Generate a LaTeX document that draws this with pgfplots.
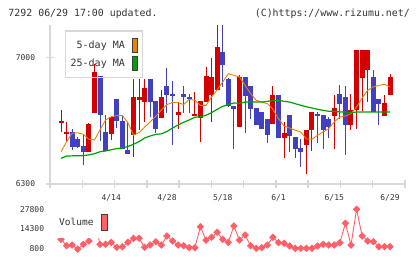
\documentclass[border=0pt]{standalone}
\usepackage{pgfplots}
\usepackage{pgfplotstable}
\pgfplotsset{compat=1.18}
\usepackage{fontspec}
\setmainfont{DejaVu Sans Mono}
\definecolor{cred}{RGB}{212,0,0}
\definecolor{cblue}{RGB}{64,64,192}
\definecolor{cma5}{RGB}{240,128,0}
\definecolor{cma25}{RGB}{0,160,0}
\definecolor{cvol}{RGB}{255,96,104}
\definecolor{caxis}{RGB}{216,216,216}
\definecolor{ctext}{RGB}{51,51,51}

\pgfplotstableread{
i o h l c
0 6640 6708 6588 6648
1 6582 6644 6540 6588
5 6477 6640 6477 6634
6 6695 6967 6695 6921
9 6579 6677 6542 6671
13 6570 6884 6450 6782
14 6767 6884 6598 6782
15 6754 6884 6644 6832
18 6666 6819 6666 6782
21 6684 6754 6607 6699
24 6682 6810 6682 6688
25 6666 6760 6533 6760
26 6754 6948 6754 6899
27 6795 6998 6644 6893
28 6819 7250 6819 7060
32 6616 6902 6616 6893
38 6634 6843 6630 6792
40 6555 6644 6444 6583
44 6518 6598 6357 6598
45 6598 6699 6481 6699
49 6677 6795 6496 6721
52 6629 6801 6598 6708
53 6708 7041 6607 7041
54 6888 7041 6703 7041
55 6930 7041 6754 7041
58 6677 6795 6677 6749
59 6795 6911 6795 6893
}\upcandles

\pgfplotstableread{
i o h l c
2 6588 6603 6487 6505
3 6551 6560 6500 6505
4 6511 6570 6407 6477
7 6899 6899 6540 6684
8 6588 6681 6481 6481
10 6769 6769 6610 6648
11 6648 6681 6496 6496
12 6490 6644 6468 6468
16 6880 6880 6671 6754
17 6760 6760 6583 6607
19 6843 6943 6695 6795
20 6799 6869 6518 6788
22 6799 6843 6695 6781
23 6781 6797 6695 6769
29 7032 7250 6838 6958
30 6884 6890 6725 6732
31 6732 6732 6496 6717
33 6893 6893 6584 6788
34 6843 6843 6659 6717
35 6721 6721 6629 6629
36 6699 6699 6607 6607
37 6659 6659 6529 6570
39 6792 6792 6555 6555
41 6681 6681 6477 6566
42 6560 6560 6444 6496
43 6500 6551 6394 6477
46 6688 6699 6529 6677
47 6681 6681 6496 6598
48 6659 6671 6555 6616
50 6801 6850 6662 6745
51 6782 6843 6459 6629
56 6893 6930 6699 6699
57 6769 6769 6629 6745
}\downcandles

\pgfplotstableread{
i v
0 6479
1 6534
2 6581
3 6584
4 6575
5 6548
6 6544
7 6600
8 6655
9 6673
10 6679
11 6679
12 6640
13 6571
14 6585
15 6615
16 6645
17 6675
18 6710
19 6740
20 6752
21 6751
22 6740
23 6769
24 6764
25 6736
26 6736
27 6782
28 6822
29 6865
30 6911
31 6902
32 6893
33 6847
34 6801
35 6764
36 6754
37 6745
38 6714
39 6662
40 6621
41 6610
42 6598
43 6588
44 6550
45 6548
46 6570
47 6588
48 6607
49 6644
50 6671
51 6677
52 6690
53 6727
54 6777
55 6819
56 6838
57 6847
58 6852
59 6838
}\maFive

\pgfplotstableread{
i v
0 6442
1 6455
2 6456
3 6457
4 6457
5 6461
6 6468
7 6479
8 6483
9 6490
10 6496
11 6500
12 6508
13 6520
14 6535
15 6555
16 6566
17 6575
18 6578
19 6591
20 6610
21 6627
22 6642
23 6655
24 6670
25 6672
26 6681
27 6695
28 6714
29 6730
30 6740
31 6749
32 6747
33 6754
34 6754
35 6754
36 6754
37 6758
38 6762
39 6764
40 6758
41 6754
42 6745
43 6736
44 6728
45 6721
46 6714
47 6708
48 6703
49 6703
50 6699
51 6699
52 6695
53 6699
54 6699
55 6699
56 6699
57 6699
58 6699
59 6699
}\maTwentyFive

\pgfplotstableread{
i v
0 7240
1 2860
2 3330
3 500
4 3810
5 6080
6 20600
7 3810
8 3810
9 5180
10 1760
11 2170
12 5180
13 7920
14 7920
15 1760
16 3330
17 5600
18 3330
19 9500
20 6080
21 3330
22 2860
23 1490
24 1490
25 15870
26 6760
27 8610
28 12030
29 7240
30 5180
31 16350
32 6760
33 10190
34 2860
35 1070
36 1490
37 3330
38 8610
39 4910
40 4500
41 2650
42 1070
43 1070
44 1070
45 1070
46 2650
47 3810
48 3330
49 3330
50 4910
51 18200
52 3330
53 27800
54 9500
55 6080
56 5600
57 2170
58 2170
59 2170
}\volume

\begin{document}
\begin{tikzpicture}
\useasboundingbox (0,0) rectangle (420bp,-259bp);
\node[anchor=base west, inner sep=0pt, text=ctext, font=\fontsize{9.9bp}{12bp}\selectfont] at (8.3bp,-16bp) {7292 06/29 17:00 updated.};
\node[anchor=base east, inner sep=0pt, text=ctext, font=\fontsize{9.9bp}{12bp}\selectfont] at (410bp,-16bp) {(C)https://www.rizumu.net/};

\begin{axis}[
  at={(50bp,-184bp)}, anchor=south west,
  scale only axis, width=355bp, height=159bp,
  xmin=-1.973, xmax=61.684, ymin=6300, ymax=7181,
  axis x line=bottom, axis y line=left,
  axis line style={-, draw=caxis, line width=1.4bp},
  tick align=center, major tick length=8bp,
  tick style={draw=caxis, line width=1.4bp},
  xtick={-1.973,3.814,9.601,15.388,21.175,26.962,32.749,38.536,44.323,50.110,55.897,61.684},
  xticklabels={},
  extra x ticks={9,19,29,39,49,59},
  extra x tick labels={4/14,4/28,5/18,6/1,6/15,6/29},
  extra x tick style={major tick length=0bp, tick style={draw=none},
     xticklabel style={anchor=base, inner sep=0pt, yshift=-16.7bp}},
  ytick={6300,7000},
  scaled ticks=false,
  yticklabel style={anchor=east, inner sep=0pt, xshift=-10.7bp},
  ticklabel style={font=\fontsize{8bp}{9.6bp}\selectfont, text=ctext},
  /pgf/number format/assume math mode=true,
  /pgf/number format/1000 sep={},
  legend plot pos=right, legend cell align=right,
  legend style={at={(0.0423,0.9667)}, anchor=north west, draw=caxis, line width=1.3bp,
     fill=none, font=\fontsize{10bp}{12bp}\selectfont, text=ctext,
     inner xsep=5bp, inner ysep=7bp, row sep=3.3bp, column sep=6.7bp,
     nodes={inner sep=0pt}},
]
% wicks
\addplot[forget plot, draw=none, mark=none,
  error bars/.cd, y dir=both, y explicit, error mark=none,
  error bar style={line width=1bp, draw=cred, solid}]
  table[x=i, y expr=(\thisrow{h}+\thisrow{l})/2, y error expr=(\thisrow{h}-\thisrow{l})/2] {\upcandles};
\addplot[forget plot, draw=none, mark=none,
  error bars/.cd, y dir=both, y explicit, error mark=none,
  error bar style={line width=1bp, draw=cblue, solid}]
  table[x=i, y expr=(\thisrow{h}+\thisrow{l})/2, y error expr=(\thisrow{h}-\thisrow{l})/2] {\downcandles};
% bodies
\addplot[forget plot, draw=none, mark=none,
  error bars/.cd, y dir=both, y explicit, error mark=none,
  error bar style={line width=5bp, draw=cred, solid}]
  table[x=i, y expr=(\thisrow{o}+\thisrow{c})/2, y error expr=abs(\thisrow{c}-\thisrow{o})/2] {\upcandles};
\addplot[forget plot, draw=none, mark=none,
  error bars/.cd, y dir=both, y explicit, error mark=none,
  error bar style={line width=5bp, draw=cblue, solid}]
  table[x=i, y expr=(\thisrow{o}+\thisrow{c})/2, y error expr=abs(\thisrow{c}-\thisrow{o})/2] {\downcandles};
% moving averages
\addplot[cma5, line width=0.9bp, mark=none,
  legend image code/.code={\draw[fill=cma5, draw=black!75, line width=0.8bp] (0bp,-7bp) rectangle (5bp,7bp);}]
  table[x=i, y=v] {\maFive};
\addlegendentry{5-day MA}
\addplot[cma25, line width=1.2bp, mark=none,
  legend image code/.code={\draw[fill=cma25, draw=black!75, line width=0.8bp] (0bp,-7bp) rectangle (5bp,7bp);}]
  table[x=i, y=v] {\maTwentyFive};
\addlegendentry{25-day MA}
\end{axis}

\begin{axis}[
  at={(50bp,-252bp)}, anchor=south west,
  scale only axis, width=355bp, height=47bp,
  xmin=-1.973, xmax=61.684, ymin=-1461, ymax=30747,
  hide x axis,
  axis y line=left, axis line style={draw=none},
  major tick length=0bp, tick style={draw=none},
  ytick={800,14300,27800},
  scaled ticks=false,
  yticklabel style={anchor=east, inner sep=0pt, xshift=-5.7bp,
     font=\fontsize{8bp}{9.6bp}\selectfont, text=ctext},
  /pgf/number format/assume math mode=true,
  /pgf/number format/1000 sep={},
  legend plot pos=right,
  legend style={at={(0.0141,0.957)}, anchor=north west, draw=none, fill=white,
     font=\fontsize{9.5bp}{11bp}\selectfont, text=ctext,
     inner xsep=4bp, inner ysep=7.1bp, column sep=7.7bp, nodes={inner sep=0pt}},
]
\addplot[cvol, line width=0.9bp, mark=square*, mark size=2.2bp,
  mark options={fill=cvol, draw=cvol, solid, rotate=45},
  legend image code/.code={\draw[fill=cvol, draw=black!75, line width=0.8bp] (0bp,-7.7bp) rectangle (6bp,7.7bp);}]
  table[x=i, y=v] {\volume};
\addlegendentry{Volume}
\end{axis}
\end{tikzpicture}
\end{document}
